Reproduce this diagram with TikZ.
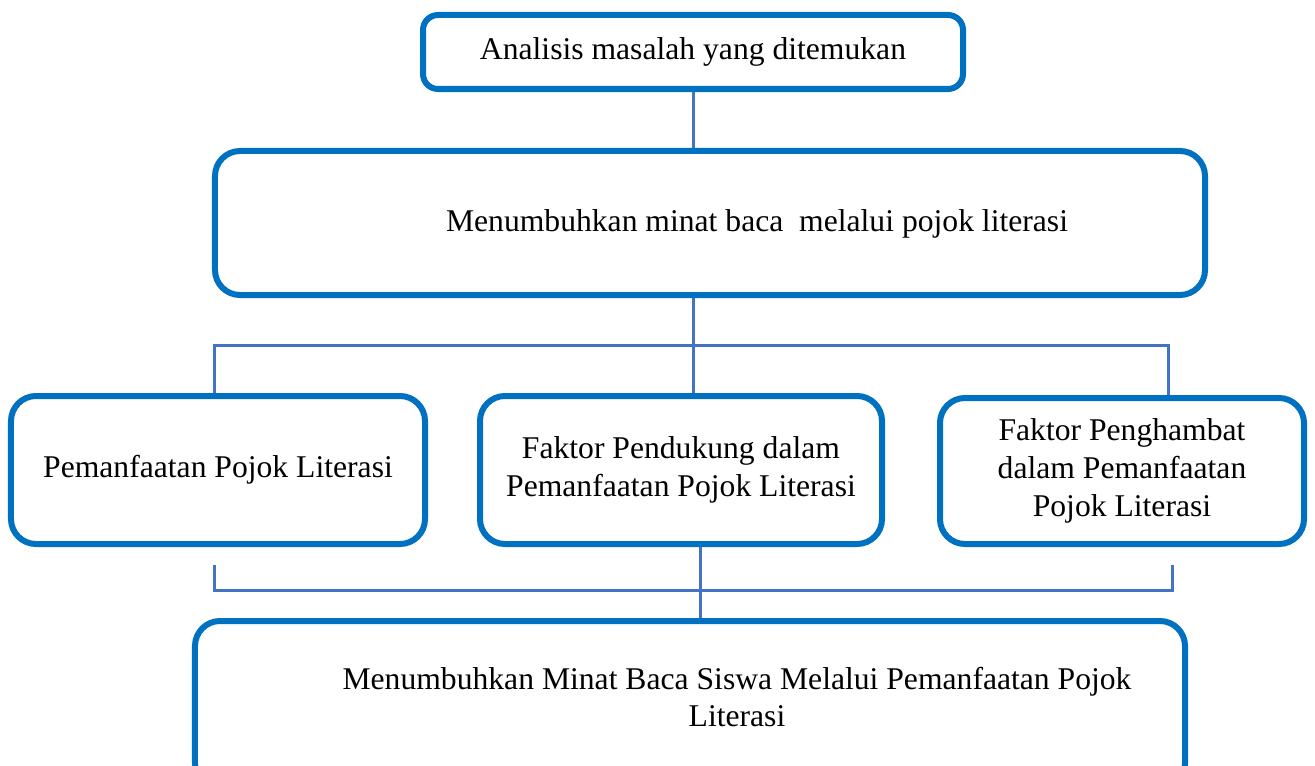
\documentclass[tikz,border=0pt]{standalone}
\usepackage{fontspec}
\setmainfont{Liberation Serif}
\usetikzlibrary{positioning}

\definecolor{boxblue}{HTML}{0070C0}
\definecolor{lineblue}{HTML}{4472C4}

\begin{document}
\begin{tikzpicture}[x=0.2mm,y=-0.2mm,
	box/.style={draw=boxblue,
		line width=1.2mm,
		rounded corners=5mm,
		fill=white,
		inner sep=0pt,
		align=center,
		font=\fontsize{18}{21.5}\selectfont},
	txt/.style={align=center,font=\fontsize{18}{21.5}\selectfont},
	link/.style={lineblue,line width=0.6mm}]
	
	% Frame
	\useasboundingbox (0,0) rectangle (1315,766);
	\clip (0,0) rectangle (1315,766);
	
	% Top box
	\node[box,rounded corners=3mm,
	minimum width=108mm,
	minimum height=14.8mm] (masalah) at (693,52) {Analisis masalah yang ditemukan};
	
	% Focus box
	\node[box,
	minimum width=198mm,
	minimum height=28.8mm] (fokus) at (710,223) {};
	\node[txt] (fokustxt) at (757,224) {Menumbuhkan minat baca\ \ melalui pojok literasi};
	
	% Three middle boxes
	\node[box,
	minimum width=82.8mm,
	minimum height=29.6mm] (manfaat) at (218,470) {Pemanfaatan Pojok Literasi};
	\node[box,
	minimum width=80.4mm,
	minimum height=29.6mm] (dukung) at (681,470) {Faktor Pendukung dalam\\Pemanfaatan Pojok Literasi};
	\node[box,
	minimum width=72.8mm,
	minimum height=29.2mm] (hambat) at (1122,471) {Faktor Penghambat\\dalam Pemanfaatan\\Pojok Literasi};
	
	% Result box
	\node[box,
	minimum width=198mm,
	minimum height=33.4mm] (hasil) at (690,704.5) {};
	\node[txt] (hasiltxt) at (737,697) {Menumbuhkan Minat Baca Siswa Melalui Pemanfaatan Pojok\\Literasi};
	
	% Upper bus
	\coordinate (hub) at (693,345);
	\coordinate (busL) at (214,345);
	\coordinate (busR) at (1168,345);
	\draw[link] (masalah.south) -- (masalah.south |- fokus.north);
	\draw[link] (hub |- fokus.south) -- (hub);
	\draw[link] (busL |- manfaat.north) -- (busL) -- (busR) -- (busR |- hambat.north);
	\draw[link] (hub) -- (hub |- dukung.north);
	
	% Lower bus
	\coordinate (lowL) at (214,565);
	\coordinate (lowR) at (1172,565);
	\draw[link] (lowL) -- (214,590) -- (1172,590) -- (lowR);
	\draw[link] (700,547) -- (700,547 |- hasil.north);
	
\end{tikzpicture}
\end{document}
